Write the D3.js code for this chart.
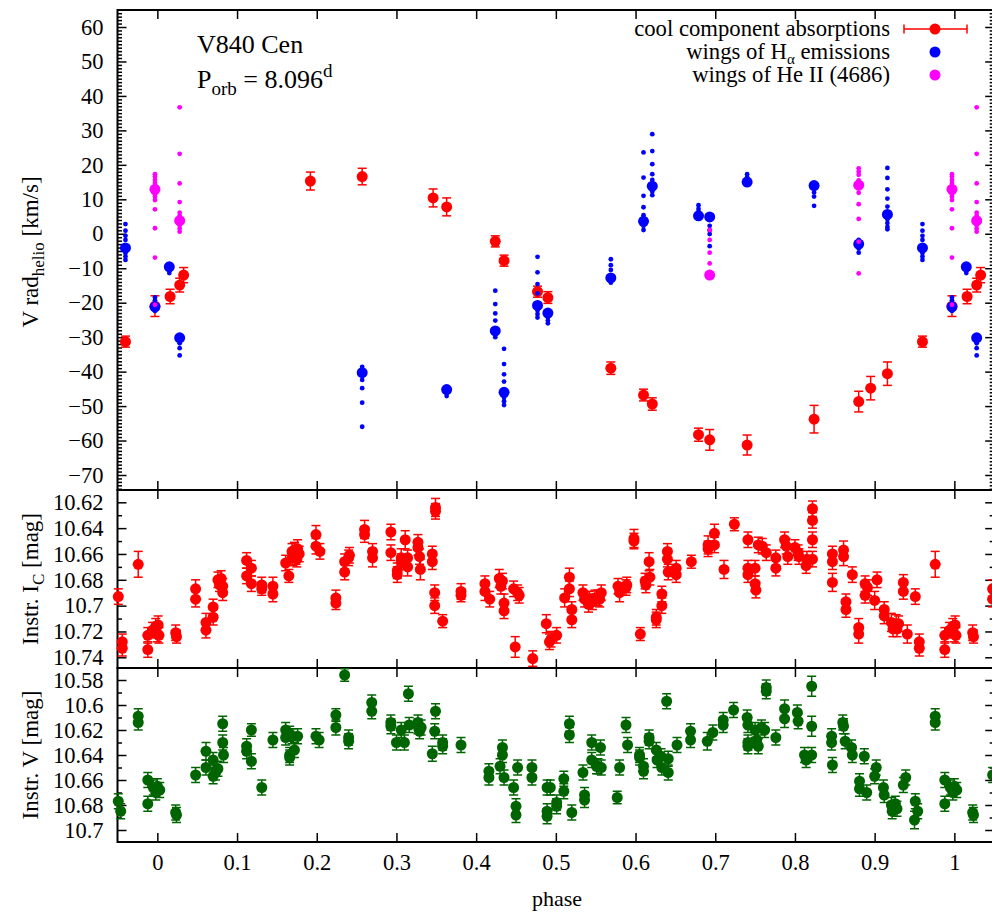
<!DOCTYPE html>
<html lang="en">
<head>
<meta charset="utf-8"/>
<title>V840 Cen radial velocities and photometry</title>
<style>
  body { margin: 0; background: #fff; }
  svg text { font-family: "Liberation Serif", "Times New Roman", serif; fill: #000; }
</style>
</head>
<body>
<svg id="chart"></svg>
<script src="https://cdn.jsdelivr.net/npm/d3@7/dist/d3.min.js"></script>
<script>
// ---- radial velocities: cool component absorptions ----
const rvPhase = [0.016, 0.028, 0.033, 0.192, 0.257, 0.346, 0.363, 0.424, 0.435, 0.477, 0.490,
  0.569, 0.610, 0.621, 0.679, 0.693, 0.740, 0.824, 0.880, 0.895, 0.916, 0.960, 0.997];
const rvCool = [-18.2, -14.9, -12.0, 15.3, 16.6, 10.4, 7.8, -2.2, -7.8, -16.8, -18.5,
  -39.0, -46.8, -49.4, -58.3, -59.8, -61.3, -53.8, -48.7, -44.8, -40.6, -31.3, -21.0];
const rvCoolErr = [2.1, 2.0, 2.2, 2.6, 2.4, 2.6, 2.6, 1.6, 1.6, 1.6, 1.7,
  1.8, 1.7, 1.8, 1.9, 3.0, 2.9, 4.0, 3.0, 3.4, 3.4, 1.6, 3.0];

// ---- wings of H-alpha emission (big dot = mean, small dots = individual wings) ----
const haPhase = [0.015, 0.028, 0.257, 0.363, 0.424, 0.435, 0.477, 0.490, 0.569, 0.610,
  0.621, 0.679, 0.693, 0.740, 0.824, 0.880, 0.916, 0.960, 0.997];
const haMain = [-9.6, -30.2, -40.3, -45.2, -28.2, -46.0, -20.8, -23.0, -12.8, 3.6,
  13.8, 5.2, 4.9, 15.0, 14.0, -3.0, 5.6, -4.1, -21.2];
const haWings = [
  [-10.5, -11.4],
  [-31.0, -31.8, -33.2, -35.3],
  [-38.6, -39.5, -42.4, -44.8, -49.0, -56.0],
  [-46.3, -47.1],
  [-16.5, -20.4, -23.1, -25.2, -29.2, -30.0],
  [-33.4, -37.8, -40.8, -42.9, -47.5, -48.6, -49.7],
  [-6.7, -11.2, -14.6, -17.3, -22.3, -23.3, -24.3],
  [-24.2, -25.2, -26.0],
  [-7.4, -9.1, -10.5, -13.6, -14.2],
  [23.6, 16.3, 11.0, 7.7, 5.4, 2.3, 1.1],
  [28.9, 24.0, 20.2, 17.3, 15.6, 12.3, 11.2],
  [8.3, 7.2, 6.3],
  [2.3, 1.0, -0.1, -3.6],
  [17.3, 16.4],
  [12.0, 10.8, 8.1],
  [-1.8, -4.3, -5.5],
  [19.1, 16.2, 12.9, 10.2, 7.9, 4.2, 3.1, 2.0, 1.3],
  [2.8, 0.9, -0.6, -1.8, -5.6, -6.6, -7.6],
  [-18.5, -19.3, -20.0, -22.4]
];

// ---- wings of He II 4686 ----
const hePhase = [0.028, 0.693, 0.880, 0.997];
const heMain = [3.8, -12.0, 14.1, 12.9];
const heWings = [
  [36.7, 23.2, 14.6, 9.2, 6.1, 5.2, 2.5, 1.5, 0.6],
  [1.1, -1.8, -5.5, -8.6],
  [19.0, 18.0, 17.1, 15.5, 11.9, 8.6, 4.3, -2.3, -11.5],
  [17.3, 16.6, 15.6, 14.7, 11.5, 10.8, 9.8, 7.1, 1.6, -6.9, -20.6]
];

// ---- instrumental I_C photometry ----
const icPhase = [0.000, 0.001, 0.002, 0.023, 0.024, 0.048, 0.048, 0.061, 0.061, 0.070,
  0.070, 0.076, 0.080, 0.078, 0.082, 0.082, 0.112, 0.118, 0.112, 0.118,
  0.131, 0.131, 0.145, 0.145, 0.161, 0.165, 0.169, 0.172, 0.176, 0.174,
  0.178, 0.169, 0.175, 0.199, 0.199, 0.204, 0.224, 0.224, 0.235, 0.235,
  0.240, 0.241, 0.260, 0.260, 0.270, 0.270, 0.293, 0.293, 0.301, 0.301,
  0.306, 0.306, 0.311, 0.314, 0.314, 0.327, 0.327, 0.329, 0.330, 0.345,
  0.345, 0.349, 0.349, 0.348, 0.348, 0.358, 0.381, 0.381, 0.411, 0.411,
  0.417, 0.429, 0.433, 0.431, 0.435, 0.435, 0.447, 0.452, 0.454, 0.449,
  0.471, 0.488, 0.492, 0.494, 0.501, 0.511, 0.517, 0.517, 0.520, 0.520,
  0.534, 0.536, 0.542, 0.546, 0.553, 0.557, 0.555, 0.549, 0.541, 0.578,
  0.580, 0.589, 0.588, 0.598, 0.598, 0.606, 0.612, 0.613, 0.617, 0.618,
  0.626, 0.626, 0.633, 0.633, 0.640, 0.640, 0.641, 0.651, 0.651, 0.670,
  0.691, 0.691, 0.699, 0.699, 0.711, 0.724, 0.741, 0.741, 0.741, 0.750,
  0.750, 0.751, 0.754, 0.759, 0.764, 0.776, 0.776, 0.787, 0.789, 0.791,
  0.800, 0.804, 0.805, 0.814, 0.815, 0.822, 0.822, 0.822, 0.822, 0.847,
  0.847, 0.847, 0.861, 0.861, 0.864, 0.864, 0.872, 0.880, 0.880, 0.888,
  0.888, 0.891, 0.900, 0.903, 0.912, 0.912, 0.921, 0.923, 0.927, 0.930,
  0.928, 0.936, 0.936, 0.941, 0.951, 0.956, 0.956, 0.976, 0.988, 0.988,
  0.994, 0.998];
const icMag = [10.722, 10.715, 10.723, 10.721, 10.724, 10.687, 10.695, 10.713, 10.719, 10.701,
  10.709, 10.680, 10.679, 10.684, 10.685, 10.690, 10.665, 10.671, 10.677, 10.683,
  10.684, 10.687, 10.685, 10.691, 10.667, 10.677, 10.658, 10.657, 10.656, 10.662,
  10.660, 10.663, 10.664, 10.645, 10.654, 10.658, 10.694, 10.698, 10.666, 10.674,
  10.663, 10.661, 10.641, 10.645, 10.658, 10.663, 10.643, 10.659, 10.676, 10.673,
  10.663, 10.666, 10.649, 10.663, 10.670, 10.651, 10.655, 10.662, 10.672, 10.660,
  10.666, 10.624, 10.627, 10.690, 10.700, 10.712, 10.689, 10.692, 10.683, 10.689,
  10.695, 10.679, 10.681, 10.685, 10.698, 10.704, 10.687, 10.690, 10.692, 10.732,
  10.741, 10.714, 10.728, 10.726, 10.723, 10.694, 10.678, 10.687, 10.703, 10.711,
  10.690, 10.695, 10.695, 10.697, 10.694, 10.690, 10.695, 10.694, 10.699, 10.685,
  10.690, 10.684, 10.686, 10.648, 10.650, 10.722, 10.681, 10.684, 10.666, 10.678,
  10.709, 10.711, 10.691, 10.700, 10.658, 10.664, 10.674, 10.671, 10.676, 10.666,
  10.653, 10.656, 10.644, 10.653, 10.672, 10.637, 10.649, 10.671, 10.676, 10.671,
  10.683, 10.688, 10.653, 10.654, 10.659, 10.663, 10.671, 10.649, 10.654, 10.662,
  10.655, 10.659, 10.662, 10.669, 10.664, 10.625, 10.634, 10.649, 10.664, 10.660,
  10.666, 10.682, 10.657, 10.662, 10.697, 10.703, 10.676, 10.717, 10.722, 10.683,
  10.692, 10.686, 10.696, 10.680, 10.703, 10.708, 10.713, 10.718, 10.714, 10.714,
  10.718, 10.682, 10.689, 10.722, 10.693, 10.728, 10.733, 10.668, 10.723, 10.734,
  10.719, 10.716];
const icErr = [0.006, 0.007, 0.006, 0.006, 0.005, 0.007, 0.006, 0.007, 0.006, 0.006,
  0.006, 0.006, 0.006, 0.005, 0.006, 0.006, 0.006, 0.006, 0.006, 0.006,
  0.006, 0.005, 0.007, 0.006, 0.006, 0.005, 0.006, 0.006, 0.007, 0.006,
  0.006, 0.006, 0.006, 0.007, 0.006, 0.006, 0.006, 0.005, 0.006, 0.006,
  0.006, 0.006, 0.007, 0.006, 0.006, 0.007, 0.006, 0.006, 0.006, 0.006,
  0.007, 0.006, 0.007, 0.006, 0.007, 0.006, 0.006, 0.006, 0.008, 0.006,
  0.006, 0.007, 0.006, 0.006, 0.006, 0.005, 0.006, 0.005, 0.006, 0.007,
  0.006, 0.007, 0.006, 0.006, 0.007, 0.006, 0.006, 0.006, 0.006, 0.008,
  0.006, 0.007, 0.006, 0.006, 0.006, 0.007, 0.007, 0.006, 0.006, 0.006,
  0.006, 0.006, 0.006, 0.006, 0.006, 0.006, 0.006, 0.006, 0.006, 0.006,
  0.007, 0.006, 0.006, 0.007, 0.006, 0.005, 0.006, 0.006, 0.007, 0.006,
  0.006, 0.006, 0.006, 0.006, 0.006, 0.006, 0.006, 0.006, 0.006, 0.005,
  0.007, 0.006, 0.007, 0.006, 0.007, 0.005, 0.006, 0.006, 0.006, 0.006,
  0.006, 0.006, 0.006, 0.006, 0.006, 0.006, 0.006, 0.006, 0.006, 0.006,
  0.006, 0.006, 0.006, 0.006, 0.006, 0.006, 0.006, 0.006, 0.006, 0.006,
  0.006, 0.007, 0.007, 0.007, 0.006, 0.006, 0.006, 0.007, 0.007, 0.006,
  0.006, 0.006, 0.007, 0.006, 0.006, 0.006, 0.007, 0.006, 0.007, 0.006,
  0.006, 0.006, 0.006, 0.007, 0.006, 0.006, 0.006, 0.010, 0.006, 0.006,
  0.006, 0.006];

// ---- instrumental V photometry ----
const vPhase = [0.000, 0.003, 0.998, 0.995, 0.023, 0.024, 0.048, 0.061, 0.061, 0.070,
  0.073, 0.070, 0.076, 0.082, 0.082, 0.083, 0.112, 0.112, 0.118, 0.118,
  0.131, 0.145, 0.161, 0.161, 0.166, 0.169, 0.176, 0.166, 0.166, 0.172,
  0.199, 0.203, 0.224, 0.224, 0.235, 0.240, 0.240, 0.269, 0.269, 0.293,
  0.293, 0.300, 0.310, 0.306, 0.316, 0.315, 0.327, 0.329, 0.327, 0.331,
  0.349, 0.348, 0.345, 0.358, 0.358, 0.381, 0.416, 0.416, 0.430, 0.433,
  0.433, 0.435, 0.447, 0.450, 0.450, 0.452, 0.470, 0.470, 0.489, 0.489,
  0.489, 0.493, 0.501, 0.501, 0.510, 0.510, 0.517, 0.517, 0.520, 0.534,
  0.536, 0.536, 0.545, 0.545, 0.551, 0.553, 0.556, 0.557, 0.577, 0.580,
  0.588, 0.590, 0.605, 0.605, 0.610, 0.610, 0.617, 0.617, 0.626, 0.627,
  0.633, 0.632, 0.639, 0.641, 0.641, 0.652, 0.669, 0.669, 0.690, 0.697,
  0.710, 0.710, 0.723, 0.740, 0.741, 0.741, 0.741, 0.750, 0.752, 0.754,
  0.758, 0.762, 0.764, 0.764, 0.776, 0.787, 0.787, 0.803, 0.804, 0.812,
  0.814, 0.821, 0.821, 0.821, 0.846, 0.846, 0.847, 0.860, 0.861, 0.863,
  0.871, 0.872, 0.881, 0.881, 0.887, 0.890, 0.900, 0.902, 0.911, 0.912,
  0.921, 0.922, 0.926, 0.928, 0.936, 0.939, 0.951, 0.954, 0.950, 0.976,
  0.976, 0.988, 0.988];
const vMag = [10.665, 10.668, 10.670, 10.666, 10.686, 10.688, 10.656, 10.637, 10.650, 10.644,
  10.654, 10.657, 10.651, 10.615, 10.630, 10.640, 10.633, 10.637, 10.620, 10.645,
  10.666, 10.628, 10.620, 10.626, 10.623, 10.625, 10.625, 10.640, 10.642, 10.636,
  10.625, 10.628, 10.608, 10.618, 10.576, 10.626, 10.629, 10.598, 10.605, 10.614,
  10.617, 10.630, 10.630, 10.620, 10.616, 10.591, 10.617, 10.621, 10.614, 10.618,
  10.605, 10.621, 10.639, 10.630, 10.633, 10.632, 10.653, 10.658, 10.649, 10.634,
  10.640, 10.658, 10.666, 10.681, 10.688, 10.650, 10.650, 10.658, 10.666, 10.685,
  10.689, 10.666, 10.678, 10.681, 10.659, 10.669, 10.615, 10.624, 10.686, 10.654,
  10.672, 10.676, 10.630, 10.644, 10.649, 10.649, 10.634, 10.650, 10.674, 10.650,
  10.616, 10.632, 10.640, 10.642, 10.649, 10.653, 10.626, 10.629, 10.636, 10.644,
  10.650, 10.641, 10.597, 10.643, 10.654, 10.632, 10.621, 10.628, 10.629, 10.622,
  10.612, 10.616, 10.604, 10.610, 10.616, 10.630, 10.633, 10.620, 10.628, 10.633,
  10.618, 10.620, 10.586, 10.589, 10.626, 10.603, 10.611, 10.606, 10.613, 10.640,
  10.644, 10.640, 10.585, 10.617, 10.625, 10.630, 10.648, 10.614, 10.617, 10.629,
  10.634, 10.640, 10.661, 10.667, 10.641, 10.670, 10.657, 10.650, 10.666, 10.672,
  10.680, 10.685, 10.679, 10.683, 10.664, 10.658, 10.677, 10.685, 10.692, 10.609,
  10.614, 10.660, 10.679];
const vErr = [0.006, 0.006, 0.006, 0.006, 0.006, 0.006, 0.006, 0.007, 0.006, 0.006,
  0.006, 0.006, 0.006, 0.006, 0.006, 0.006, 0.006, 0.006, 0.005, 0.006,
  0.006, 0.006, 0.006, 0.006, 0.006, 0.006, 0.006, 0.006, 0.006, 0.006,
  0.006, 0.006, 0.005, 0.006, 0.005, 0.006, 0.006, 0.006, 0.006, 0.006,
  0.006, 0.006, 0.006, 0.006, 0.006, 0.006, 0.006, 0.006, 0.006, 0.006,
  0.006, 0.006, 0.006, 0.006, 0.006, 0.006, 0.006, 0.006, 0.006, 0.006,
  0.006, 0.006, 0.006, 0.006, 0.006, 0.006, 0.006, 0.006, 0.006, 0.006,
  0.006, 0.006, 0.006, 0.006, 0.006, 0.006, 0.006, 0.006, 0.006, 0.006,
  0.006, 0.006, 0.006, 0.006, 0.006, 0.006, 0.006, 0.006, 0.005, 0.006,
  0.006, 0.006, 0.006, 0.006, 0.006, 0.006, 0.006, 0.006, 0.006, 0.006,
  0.006, 0.006, 0.006, 0.006, 0.006, 0.006, 0.006, 0.006, 0.007, 0.006,
  0.006, 0.006, 0.006, 0.006, 0.006, 0.006, 0.006, 0.006, 0.006, 0.006,
  0.006, 0.006, 0.006, 0.006, 0.006, 0.007, 0.007, 0.006, 0.006, 0.006,
  0.006, 0.006, 0.008, 0.008, 0.006, 0.006, 0.006, 0.006, 0.006, 0.006,
  0.006, 0.006, 0.006, 0.006, 0.006, 0.006, 0.006, 0.006, 0.006, 0.006,
  0.006, 0.006, 0.006, 0.006, 0.006, 0.006, 0.006, 0.006, 0.007, 0.006,
  0.006, 0.006, 0.006];

// ---- tick values ----
const phaseTicks = [0, 0.1, 0.2, 0.3, 0.4, 0.5, 0.6, 0.7, 0.8, 0.9, 1];
const rvTicks = [-70, -60, -50, -40, -30, -20, -10, 0, 10, 20, 30, 40, 50, 60];
const icTicks = [10.62, 10.64, 10.66, 10.68, 10.70, 10.72, 10.74];
const vTicks = [10.58, 10.60, 10.62, 10.64, 10.66, 10.68, 10.70];

const width = 992, height = 914;
const left = 117.5, right = 994.2;
const svg = d3.select("#chart").attr("width", width).attr("height", height);

const x = d3.scaleLinear().domain([-0.05, 1.05]).range([left, right]);
const yRV = d3.scaleLinear().domain([-70, 60]).range([475, 27]);
const yIC = d3.scaleLinear().domain([10.62, 10.74]).range([502.3, 657.3]);
const yV = d3.scaleLinear().domain([10.58, 10.70]).range([680, 830]);

const RED = "#ff0000", BLUE = "#0000ff", MAG = "#ff00ff", GREEN = "#006400";

// copies of each point shifted by one cycle, kept inside the phase window
function wrap(phases) {
  const out = [];
  phases.forEach(function(p, i) {
    [-1, 0, 1].forEach(function(k) {
      const q = p + k;
      if (q >= -0.05 && q <= 1.05) out.push({ p: q, i: i });
    });
  });
  return out;
}

const fmtMag = d => String(+d.toFixed(2));

function frame(top, bottom, y, major, minor, fmt, showX) {
  const g = svg.append("g");
  const ax = [];
  ax.push(g.append("g").attr("transform", "translate(0," + top + ")")
    .call(d3.axisTop(x).tickValues(phaseTicks).tickSize(-9).tickFormat("")));
  ax.push(g.append("g").attr("transform", "translate(0," + bottom + ")")
    .call(d3.axisBottom(x).tickValues(phaseTicks).tickSize(-9).tickPadding(12)
      .tickFormat(showX ? d => String(d) : "")));
  ax.push(g.append("g").attr("transform", "translate(" + left + ",0)")
    .call(d3.axisLeft(y).tickValues(major).tickSize(-9).tickPadding(14).tickFormat(fmt)));
  ax.push(g.append("g").attr("transform", "translate(" + left + ",0)")
    .call(d3.axisLeft(y).tickValues(minor).tickSize(-4.5).tickFormat("")));
  ax.push(g.append("g").attr("transform", "translate(" + right + ",0)")
    .call(d3.axisRight(y).tickValues(major).tickSize(-9).tickFormat("")));
  ax.push(g.append("g").attr("transform", "translate(" + right + ",0)")
    .call(d3.axisRight(y).tickValues(minor).tickSize(-4.5).tickFormat("")));
  ax.forEach(function(a) {
    a.attr("font-family", null).attr("font-size", null);
    a.select(".domain").remove();
    a.selectAll(".tick line").attr("stroke", "#000").attr("stroke-width", 1.5);
    a.selectAll(".tick text").style("font-size", "22.5px");
  });
  g.append("rect").attr("x", left).attr("y", top)
    .attr("width", right - left).attr("height", bottom - top)
    .attr("fill", "none").attr("stroke", "#000").attr("stroke-width", 2);
}

const rvMinor = d3.range(-74, 65).filter(v => v % 10 !== 0);
frame(10, 490, yRV, rvTicks, rvMinor, d3.format(""), false);
frame(490, 668, yIC, icTicks, [10.61, 10.63, 10.65, 10.67, 10.69, 10.71, 10.73], fmtMag, false);
frame(668, 842, yV, vTicks, [10.57, 10.59, 10.61, 10.63, 10.65, 10.67, 10.69], fmtMag, true);

// error bar + filled circle markers
function errPoints(phases, vals, errs, y, color, r) {
  const pts = wrap(phases);
  const g = svg.append("g");
  const cap = 4.5;
  pts.forEach(function(d) {
    const cx = x(d.p), v = vals[d.i], e = errs[d.i];
    const y1 = y(v - e), y2 = y(v + e);
    g.append("line").attr("x1", cx).attr("x2", cx).attr("y1", y1).attr("y2", y2)
      .attr("stroke", color).attr("stroke-width", 1.5);
    [y1, y2].forEach(function(yy) {
      g.append("line").attr("x1", cx - cap).attr("x2", cx + cap).attr("y1", yy).attr("y2", yy)
        .attr("stroke", color).attr("stroke-width", 1.5);
    });
  });
  g.selectAll("circle").data(pts).enter().append("circle")
    .attr("cx", d => x(d.p)).attr("cy", d => y(vals[d.i])).attr("r", r).attr("fill", color);
}

// big dot with its individual wing measurements as small dots
function wingPoints(phases, main, wings, color) {
  const pts = wrap(phases);
  const g = svg.append("g");
  pts.forEach(function(d) {
    g.selectAll(null).data(wings[d.i]).enter().append("circle")
      .attr("cx", x(d.p)).attr("cy", v => yRV(v)).attr("r", 2.4).attr("fill", color);
    g.append("circle").attr("cx", x(d.p)).attr("cy", yRV(main[d.i])).attr("r", 5.5).attr("fill", color);
  });
}

errPoints(rvPhase, rvCool, rvCoolErr, yRV, RED, 5.5);
wingPoints(haPhase, haMain, haWings, BLUE);
wingPoints(hePhase, heMain, heWings, MAG);
errPoints(icPhase, icMag, icErr, yIC, RED, 5.5);
errPoints(vPhase, vMag, vErr, yV, GREEN, 5.5);

// ---- legend ----
const leg = svg.append("g").style("font-size", "22.7px");
leg.append("text").attr("x", 890).attr("y", 36).attr("text-anchor", "end").text("cool component absorptions");
const t2 = leg.append("text").attr("x", 890).attr("y", 59).attr("text-anchor", "end");
t2.append("tspan").text("wings of H");
t2.append("tspan").attr("dy", 5).style("font-size", "15px").text("\u03b1");
t2.append("tspan").attr("dy", -5).text(" emissions");
leg.append("text").attr("x", 890).attr("y", 82).attr("text-anchor", "end").text("wings of He II (4686)");
leg.append("line").attr("x1", 904).attr("x2", 967).attr("y1", 29).attr("y2", 29).attr("stroke", RED).attr("stroke-width", 1.5);
[904, 967].forEach(function(cx) {
  leg.append("line").attr("x1", cx).attr("x2", cx).attr("y1", 24.5).attr("y2", 33.5).attr("stroke", RED).attr("stroke-width", 1.5);
});
leg.append("circle").attr("cx", 935).attr("cy", 29).attr("r", 5.5).attr("fill", RED);
leg.append("circle").attr("cx", 935).attr("cy", 52).attr("r", 5.5).attr("fill", BLUE);
leg.append("circle").attr("cx", 935).attr("cy", 75).attr("r", 5.5).attr("fill", MAG);

// ---- star label ----
svg.append("text").attr("x", 197).attr("y", 53).style("font-size", "26px").text("V840 Cen");
const porb = svg.append("text").attr("x", 197).attr("y", 88).style("font-size", "26px");
porb.append("tspan").text("P");
porb.append("tspan").attr("dy", 7).style("font-size", "19px").text("orb");
porb.append("tspan").attr("dy", -7).text(" = 8.096");
porb.append("tspan").attr("dy", -11).style("font-size", "19px").text("d");

// ---- axis titles ----
const yt1 = svg.append("text").attr("transform", "translate(38,252) rotate(-90)")
  .attr("text-anchor", "middle").style("font-size", "23px");
yt1.append("tspan").text("V rad");
yt1.append("tspan").attr("dy", 6).style("font-size", "17px").text("helio");
yt1.append("tspan").attr("dy", -6).text(" [km/s]");
const yt2 = svg.append("text").attr("transform", "translate(38,579) rotate(-90)")
  .attr("text-anchor", "middle").style("font-size", "23px");
yt2.append("tspan").text("Instr. I");
yt2.append("tspan").attr("dy", 6).style("font-size", "17px").text("C");
yt2.append("tspan").attr("dy", -6).text(" [mag]");
svg.append("text").attr("transform", "translate(38,755) rotate(-90)")
  .attr("text-anchor", "middle").style("font-size", "23px").text("Instr. V [mag]");
svg.append("text").attr("x", 557).attr("y", 906).attr("text-anchor", "middle")
  .style("font-size", "22px").text("phase");
</script>
</body>
</html>
